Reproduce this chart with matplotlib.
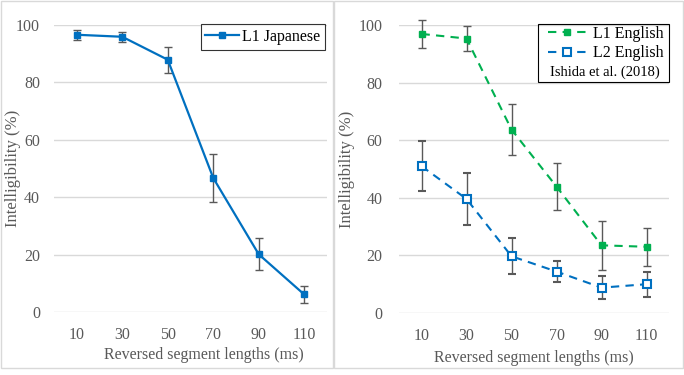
import matplotlib.pyplot as plt
from matplotlib.patches import Rectangle
from matplotlib.lines import Line2D

plt.rcParams['font.family'] = ['Liberation Serif', 'DejaVu Serif']

# data
lengths = [10, 30, 50, 70, 90, 110]
tick_labels = ['10', '30', '50', '70', '90', '110']

l1_japanese = [96.6, 95.9, 87.9, 46.7, 20.1, 6.1]
l1_japanese_err = [1.8, 1.8, 4.6, 8.5, 5.6, 2.9]

l1_english = [96.9, 95.3, 63.7, 43.9, 23.5, 23.0]
l1_english_err = [5.0, 4.2, 8.9, 8.3, 8.5, 6.6]

l2_english = [51.0, 39.6, 19.7, 14.4, 8.8, 10.0]
l2_english_err = [8.8, 9.1, 6.3, 3.7, 4.1, 4.3]

W, H = 684, 375
text_gray = '#595959'
grid_gray = '#d9d9d9'
blue = '#0070c0'
green = '#00b050'

fig = plt.figure(figsize=(W / 100, H / 100), dpi=100)

# panel frames (Excel chart borders)
fig.patches.append(Rectangle((1 / W, (H - 368) / H), 332 / W, 367 / H,
                             transform=fig.transFigure, fill=False,
                             edgecolor=grid_gray, lw=1))
fig.patches.append(Rectangle((334 / W, (H - 368) / H), 349 / W, 367 / H,
                             transform=fig.transFigure, fill=False,
                             edgecolor=grid_gray, lw=1))


def make_axes(left, right, top, bottom, ypad, ylab_x, xlab_x, xlab_top):
    ax = fig.add_axes([left / W, (H - bottom) / H, (right - left) / W, (bottom - top) / H])
    ax.set_xlim(0, 120)
    ax.set_ylim(0, 100)
    ax.set_yticks([0, 20, 40, 60, 80, 100])
    ax.set_xticks(lengths)
    ax.set_xticklabels(tick_labels)
    ax.grid(axis='y', color=grid_gray, lw=1)
    ax.set_axisbelow(True)
    for s in ax.spines.values():
        s.set_visible(False)
    ax.tick_params(length=0, labelsize=11.5, labelcolor=text_gray)
    ax.tick_params(axis='y', pad=ypad)
    ax.tick_params(axis='x', pad=11)
    # label positions given in pixels of the picture
    ax.set_xlabel('Reversed segment lengths (ms)', fontsize=11.5, color=text_gray)
    ax.xaxis.set_label_coords((xlab_x - left) / (right - left),
                              -(xlab_top - bottom) / (bottom - top))
    ax.set_ylabel('Intelligibility (%)', fontsize=12, color=text_gray)
    ax.yaxis.set_label_coords((ylab_x - left) / (right - left), 0.5)
    return ax


err_kw = dict(ecolor='#595959', elinewidth=1, capsize=3, capthick=1)

# left panel
ax1 = make_axes(54, 327, 25, 312, 10, 21, 204, 347)
ax1.errorbar(lengths, l1_japanese, yerr=l1_japanese_err, color=blue, lw=1.6,
             marker='s', markersize=5, clip_on=False, **err_kw)
leg1 = ax1.legend(handles=[Line2D([], [], color=blue, lw=1.6, marker='s', markersize=5)],
                  labels=['L1 Japanese'], loc='upper right',
                  bbox_to_anchor=(325 / W, (H - 24) / H), bbox_transform=fig.transFigure,
                  borderaxespad=0, fontsize=11.5, frameon=True, fancybox=False,
                  edgecolor='black', handlelength=2.1, handletextpad=0.2, borderpad=0.3)
leg1.get_frame().set_linewidth(0.8)

# right panel
ax2 = make_axes(399, 669, 25, 313, 12, 355, 534, 350)
ax2.errorbar(lengths, l1_english, yerr=l1_english_err, color=green, lw=1.5, ls=(0, (4, 3)),
             marker='s', markersize=5, clip_on=False, **err_kw)
ax2.errorbar(lengths, l2_english, yerr=l2_english_err, color=blue, lw=1.5, ls=(0, (4, 3)),
             marker='s', markersize=6, markerfacecolor='white', markeredgewidth=1.5,
             clip_on=False, **err_kw)

handles = [Line2D([], [], color=green, lw=1.5, ls=(0, (4, 3)), marker='s', markersize=5),
           Line2D([], [], color=blue, lw=1.5, ls=(0, (4, 3)), marker='s', markersize=6,
                  markerfacecolor='white', markeredgewidth=1.5)]
leg2 = ax2.legend(handles=handles, labels=['L1 English', 'L2 English'],
                  loc='upper right', bbox_to_anchor=(664 / W, (H - 26) / H),
                  bbox_transform=fig.transFigure, borderaxespad=0, fontsize=11.5,
                  frameon=False, handlelength=2.4, handletextpad=0.45,
                  borderpad=0.0, labelspacing=0.2)
# box around legend + citation line
fig.patches.append(Rectangle((538 / W, (H - 82) / H), 131 / W, 58 / H,
                             transform=fig.transFigure, fill=False,
                             edgecolor='black', lw=0.8, zorder=5))
fig.text(605 / W, (H - 72) / H, 'Ishida et al. (2018)', ha='center', va='center',
         fontsize=10.5, color='black')

fig.savefig('out.png', dpi=100)
